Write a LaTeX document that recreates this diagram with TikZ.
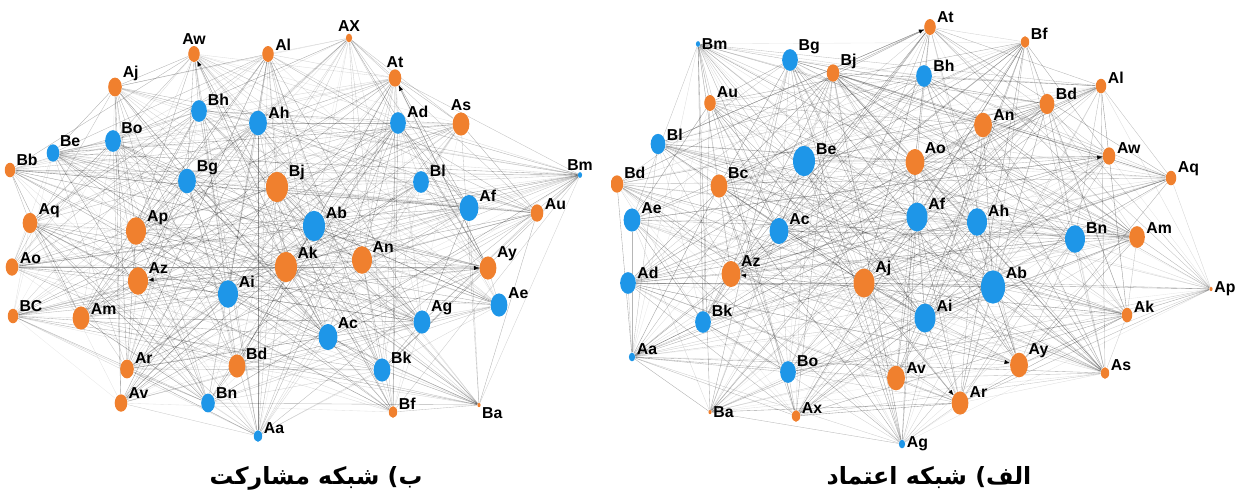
\documentclass[tikz,border=0pt]{standalone}
\usepackage{fontspec}
\setmainfont{Liberation Sans}
\newfontfamily\fafont[Script=Arabic]{DejaVu Sans}
\TeXXeTstate=1
\usetikzlibrary{shapes.geometric, backgrounds, arrows.meta}

\definecolor{nodeorange}{RGB}{240,128,46}
\definecolor{nodeblue}{RGB}{30,150,232}

\tikzset{
  netnode/.style={ellipse, inner sep=0pt, draw=none, label distance=0pt},
  lbl/.style={font=\fontsize{9}{10}\selectfont\bfseries, inner sep=0.6pt},
  link/.style={draw=black, line width=0.2pt},
  tipped/.style={draw=black!45, line width=0.2pt, -{Latex[color=black, length=3pt, width=2.4pt]}},
  caption/.style={font=\fafont\bfseries\fontsize{13.5}{16}\selectfont}
}

% name/x/y/width/colour/label angle
\def\netB{Aw/194/54/11/nodeorange/90, Al/268/54/11/nodeorange/20, Aj/115/87/13/nodeorange/35,
  Bh/199/111/15/nodeblue/30, Ah/258/123/17/nodeblue/20, Bo/113/141/15/nodeblue/40,
  Be/53/153/12/nodeblue/40, Bb/10/170/10/nodeorange/30, Bg/187/181/17/nodeblue/30,
  Bj/277/187/21/nodeorange/30, Aq/30/223/14/nodeorange/25, Ap/136/231/19/nodeorange/25,
  AX/349/38/6/nodeorange/90, At/395/78/12/nodeorange/90, Ad/398/123/15/nodeblue/25,
  As/461/124/16/nodeorange/90, Bm/580/175/4/nodeblue/90, Bl/421/182/15/nodeblue/30,
  Af/469/208/18/nodeblue/30, Au/537/213/12/nodeorange/20, Ab/314/226/21/nodeblue/30,
  Ao/12/267/12/nodeorange/15, Az/138/281/19/nodeorange/35, Ai/228/294/19/nodeblue/30,
  Ak/286/267/21/nodeorange/35, BC/13/316/10/nodeorange/30, Am/81/318/16/nodeorange/15,
  Ar/127/369/13/nodeorange/30, Bd/237/366/16/nodeorange/35, Av/121/403/12/nodeorange/25,
  Bn/208/403/13/nodeblue/25, Aa/258/436/8/nodeblue/15, An/362/260/19/nodeorange/35,
  Ay/488/268/16/nodeorange/35, Ae/499/305/16/nodeblue/35, Ac/328/337/18/nodeblue/40,
  Ag/422/322/16/nodeblue/35, Bk/382/370/16/nodeblue/35, Bf/393/412/8/nodeorange/15,
  Ba/479/405/3/nodeorange/-30}
\def\netA{Bm/698/44/4/nodeblue/0, Bg/790/60/15/nodeblue/35, Bj/833/73/12/nodeorange/25,
  Au/710/103/11/nodeorange/35, Bl/658/144/14/nodeblue/15, Be/804/161/21/nodeblue/25,
  Bd/617/184/12/nodeorange/35, Bc/719/186/16/nodeorange/35, Ae/632/220/16/nodeblue/30,
  Ac/779/231/18/nodeblue/30, At/930/27/11/nodeorange/30, Bf/1025/42/8/nodeorange/10,
  Bh/924/76/15/nodeblue/20, Al/1101/86/10/nodeorange/10, Bd/1047/104/14/nodeorange/20,
  An/983/125/17/nodeorange/20, Ao/915/162/18/nodeorange/40, Aw/1109/156/12/nodeorange/10,
  Aq/1171/178/10/nodeorange/10, Af/917/217/20/nodeblue/30, Ah/977/222/19/nodeblue/25,
  Ad/628/283/15/nodeblue/20, Az/731/274/18/nodeorange/35, Aj/864/283/20/nodeorange/30,
  Bk/703/322/15/nodeblue/30, Aa/632/357/6/nodeblue/10, Bo/788/372/15/nodeblue/25,
  Av/896/378/17/nodeorange/20, Ba/710/412/3/nodeorange/0, Ax/796/416/8/nodeorange/10,
  Ag/902/444/6/nodeblue/0, Bn/1075/239/19/nodeblue/25, Am/1137/237/15/nodeorange/15,
  Ab/993/287/23/nodeblue/30, Ap/1211/289/3/nodeorange/0, Ai/925/318/20/nodeblue/25,
  Ak/1127/315/10/nodeorange/10, Ay/1019/365/17/nodeorange/35, As/1105/373/8/nodeorange/10,
  Ar/960/403/16/nodeorange/25}

\begin{document}
\begin{tikzpicture}[x=0.02cm, y=-0.02cm]
  \useasboundingbox (0,0) rectangle (1236,495);
  \pgfmathsetseed{11}

  % b) network
  \foreach \nm/\x/\y/\w/\c/\a [count=\i] in \netB
    \node[netnode, fill=\c, minimum width=\w*0.21mm, minimum height=\w*0.29mm,
      label={[lbl]\a:\nm}] (b\i) at (\x,\y) {};
  \begin{scope}[on background layer]
    \foreach \nm/\x/\y/\w/\c/\a [count=\i] in \netB {
      \foreach \nmm/\xx/\yy/\ww/\cc/\aa [count=\j] in \netB {
        \ifnum\j>\i
          \pgfmathtruncatemacro\hit{rnd<0.6 ? 1 : 0}
          \pgfmathsetmacro\op{0.08+0.32*rnd}
          \ifnum\hit=1 \draw[link, draw opacity=\op] (b\i) -- (b\j); \fi
        \fi
      }
    }
    \foreach \s/\t in {36/1, 34/14, 33/23, 22/34}
      \draw[tipped] (b\s) -- (b\t);
  \end{scope}

  % a) network
  \begin{scope}
    \clip (611,0) rectangle (1236,495);
    \foreach \nm/\x/\y/\w/\c/\a [count=\i] in \netA
      \node[netnode, fill=\c, minimum width=\w*0.21mm, minimum height=\w*0.29mm,
        label={[lbl]\a:\nm}] (a\i) at (\x,\y) {};
  \end{scope}
  \begin{scope}[on background layer]
    \begin{scope}
      \clip (611,0) rectangle (1236,495);
      \foreach \nm/\x/\y/\w/\c/\a [count=\i] in \netA {
        \foreach \nmm/\xx/\yy/\ww/\cc/\aa [count=\j] in \netA {
          \ifnum\j>\i
            \pgfmathtruncatemacro\hit{rnd<0.6 ? 1 : 0}
            \pgfmathsetmacro\op{0.08+0.32*rnd}
            \ifnum\hit=1 \draw[link, draw opacity=\op] (a\i) -- (a\j); \fi
          \fi
        }
      }
      \foreach \s/\t in {5/11, 9/18, 37/23, 4/40, 22/38}
        \draw[tipped] (a\s) -- (a\t);
    \end{scope}
  \end{scope}

  % captions
  \node[caption] (capB) at (316,478) {\beginR ب) شبکه مشارکت\endR};
  \node[caption] (capA) at (929,478) {\beginR الف) شبکه اعتماد\endR};
\end{tikzpicture}
\end{document}
